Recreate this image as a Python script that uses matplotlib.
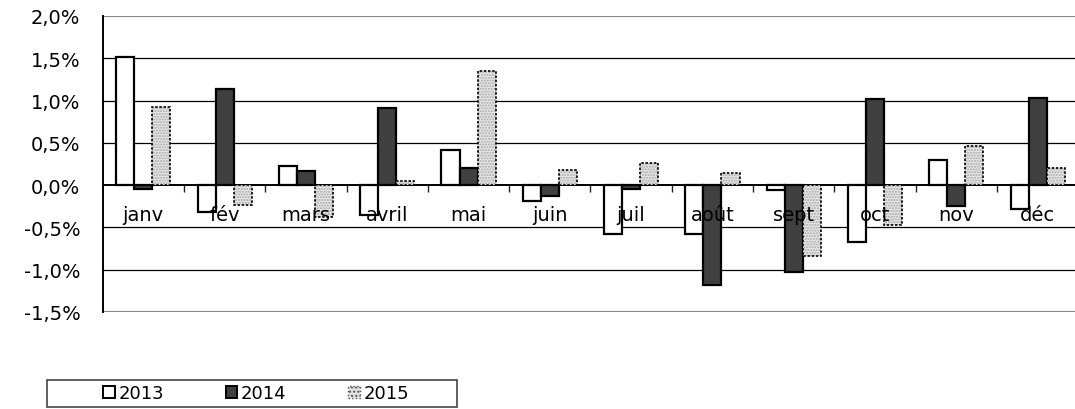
import matplotlib
matplotlib.use("Agg")
import matplotlib.pyplot as plt
from matplotlib.patches import Rectangle, Patch
from matplotlib.ticker import FuncFormatter, FixedLocator
import numpy as np

months = ["janv", "fév", "mars", "avril", "mai", "juin", "juil", "août", "sept", "oct", "nov", "déc"]
years = ["2013", "2014", "2015"]
v2013 = [1.51, -0.32, 0.23, -0.35, 0.41, -0.19, -0.58, -0.58, -0.06, -0.67, 0.30, -0.28]
v2014 = [-0.05, 1.14, 0.17, 0.91, 0.20, -0.13, -0.04, -1.18, -1.03, 1.02, -0.25, 1.03]
v2015 = [0.92, -0.24, -0.38, 0.05, 1.35, 0.18, 0.26, 0.14, -0.84, -0.47, 0.46, 0.20]
yticks = [-1.5, -1.0, -0.5, 0.0, 0.5, 1.0, 1.5, 2.0]

plt.rcParams['font.family'] = ['DejaVu Sans']
W, H = 1075, 410
fig = plt.figure(figsize=(W / 100, H / 100), dpi=100)
ax = fig.add_axes([102.7 / W, 1 - 313 / H, (12 * 81.3) / W, (313 - 17) / H])

x = np.arange(len(months))
w = 1 / 4.5
ax.bar(x - w, v2013, w, facecolor="white", edgecolor="black", linewidth=1.6, zorder=3)
ax.bar(x, v2014, w, facecolor="#404040", edgecolor="black", linewidth=1.6, zorder=3)
ax.bar(x + w, v2015, w, facecolor="#e6e6e6", edgecolor="#a8a8a8", hatch="......", linewidth=0, zorder=3)
ax.bar(x + w, v2015, w, fill=False, edgecolor="black", linewidth=1.2, linestyle=(0, (1.5, 1)), zorder=3.1)

ax.set_xlim(-0.5, 11.5)
ax.set_ylim(-1.5, 2.0)

ax.set_yticks(yticks)
ax.yaxis.set_major_formatter(FuncFormatter(lambda v, p: ("%.1f%%" % v).replace(".", ",")))
ax.tick_params(axis="y", length=0, pad=16, labelsize=14)
for yv in yticks:
    if yv in (-1.5, 2.0):
        ax.axhline(yv, color="#8a8a8a", linewidth=1.6, zorder=1)
    elif yv != 0:
        ax.axhline(yv, color="black", linewidth=0.9, zorder=1)

ax.spines["right"].set_visible(False)
ax.spines["top"].set_visible(False)
ax.spines["left"].set_linewidth(1.4)
ax.spines["bottom"].set_position(("data", 0))
ax.spines["bottom"].set_linewidth(1.4)
ax.spines["bottom"].set_zorder(2.5)

ax.set_xticks(x)
ax.set_xticklabels(months)
ax.xaxis.set_minor_locator(FixedLocator(np.arange(0.5, 11.5, 1)))
ax.tick_params(axis="x", which="major", length=0, pad=14, labelsize=14)
ax.tick_params(axis="x", which="minor", length=5, width=1, color="#222222", direction="out")
ax.xaxis.set_zorder(5)

# legend
fig.patches.append(Rectangle((47 / W, 1 - 408 / H), 410 / W, 27 / H, transform=fig.transFigure,
                             facecolor="white", edgecolor="#444444", linewidth=1.2))
handles = [Patch(facecolor="white", edgecolor="black", linewidth=1.4),
           Patch(facecolor="#404040", edgecolor="black", linewidth=1.4),
           Patch(facecolor="#e4e4e4", edgecolor="#555555", hatch="....", linewidth=1.0, linestyle=":")]
fig.legend(handles, years, loc="center", bbox_to_anchor=(256 / W, 1 - 394.5 / H), ncol=3, frameon=False,
           fontsize=13, handlelength=0.65, handleheight=0.65, handletextpad=0.2, columnspacing=3.4,
           borderpad=0)

fig.savefig("out.png", dpi=100)
